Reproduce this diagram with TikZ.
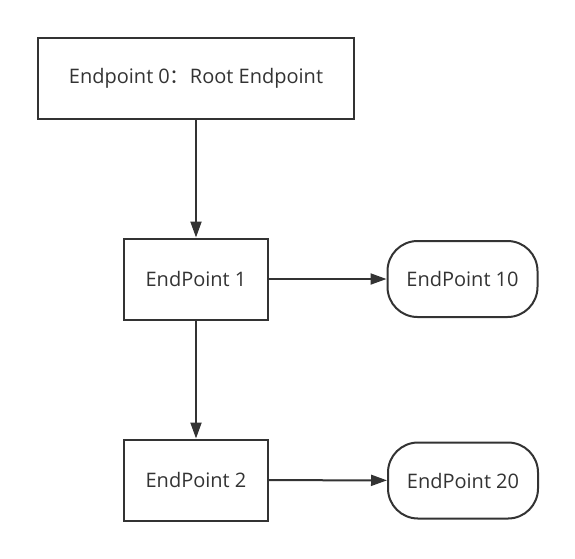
\documentclass[tikz,border=0pt]{standalone}
\usepackage{fontspec}
\setmainfont{Open Sans}
\newfontfamily\cjk{Noto Sans CJK SC}
\usetikzlibrary{arrows.meta}
\definecolor{linegray}{HTML}{333333}

\begin{document}
\begin{tikzpicture}[x=1pt, y=-1pt, line width=2pt, draw=linegray,
  every node/.style={rectangle, draw=linegray, text=linegray, align=center, font=\fontsize{20}{24}\selectfont, minimum height=81pt},
  endbox/.style={rounded corners=30pt, minimum width=150pt, minimum height=76pt}]
  \useasboundingbox (0,0) rectangle (575,558);

  \node (root) [minimum width=316pt] at (196,78) {Endpoint 0{\cjk ：}Root Endpoint};
  \node (ep1) [minimum width=144pt] at (196,279) {EndPoint 1};
  \node (ep2) [minimum width=144pt] at (196,480) {EndPoint 2};

  \node (ep10) [endbox] at (462.5,279) {EndPoint 10};
  \node (ep20) [endbox] at (463,480.5) {EndPoint 20};

  \draw[-{Triangle[length=16pt, width=11pt]}] (root) -- (ep1);
  \draw[-{Triangle[length=16pt, width=11pt]}] (ep1) -- (ep10);
  \draw[-{Triangle[length=16pt, width=11pt]}] (ep1) -- (ep2);
  \draw[-{Triangle[length=16pt, width=11pt]}] (ep2) -- (ep20);
\end{tikzpicture}
\end{document}
